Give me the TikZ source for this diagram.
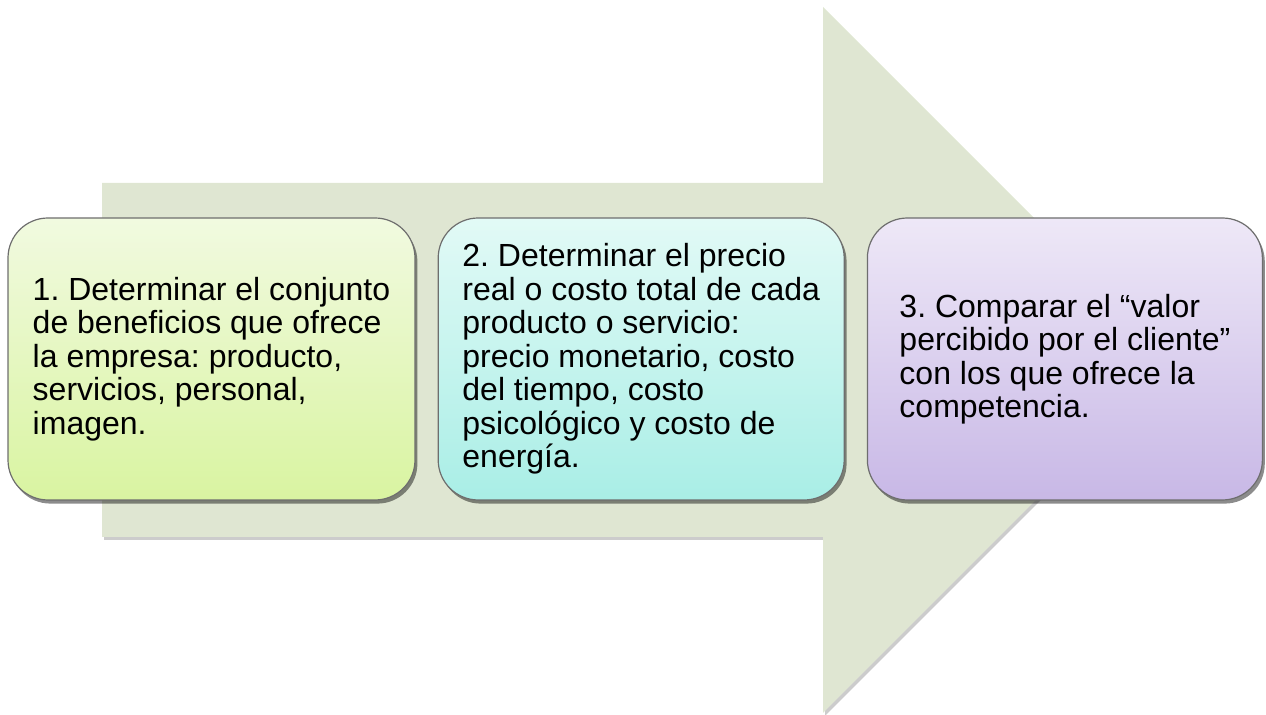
\documentclass[tikz,border=0pt]{standalone}
\usepackage{fontspec}
\setmainfont{Liberation Sans}
\usetikzlibrary{shadows,positioning}
\definecolor{arrowfill}{HTML}{DFE6D2}
\definecolor{boxline}{HTML}{6E6E6E}
\definecolor{greentop}{HTML}{F1FAE0}
\definecolor{greenbot}{HTML}{D9F4A1}
\definecolor{cyantop}{HTML}{E2FAF6}
\definecolor{cyanbot}{HTML}{A9EEE6}
\definecolor{violettop}{HTML}{EEE8F7}
\definecolor{violetbot}{HTML}{C8B8E6}
\tikzset{
  stepbox/.style={rounded corners=20pt, draw=boxline, line width=0.6pt,
    minimum height=141pt, align=left, inner sep=0pt,
    font=\fontsize{16}{16.75}\selectfont\frenchspacing,
    drop shadow={shadow xshift=1.2pt, shadow yshift=-1.8pt, fill=black, opacity=0.45}},
}
\begin{document}
\begin{tikzpicture}[x=0.5pt, y=-0.5pt]
\useasboundingbox (0,0) rectangle (1266,715);
% big arrow behind the steps
\coordinate (T1) at (102,183); \coordinate (T2) at (823,183);
\coordinate (H1) at (823,7); \coordinate (Tip) at (1176,360);
\coordinate (H2) at (823,713); \coordinate (B2) at (823,537);
\coordinate (B1) at (102,537);
\fill[arrowfill, drop shadow={shadow xshift=1pt, shadow yshift=-1.5pt, fill=black, opacity=0.2}]
  (T1) -- (T2) -- (H1) -- (Tip) -- (H2) -- (B2) -- (B1) -- cycle;
% steps
\coordinate (C1) at (211.5,359);
\node[stepbox, minimum width=203.5pt, top color=greentop, bottom color=greenbot] (box1) at (C1)
  {1. Determinar el conjunto\\de beneficios que ofrece\\la empresa: producto,\\servicios, personal,\\imagen.};
\node[stepbox, minimum width=203pt, top color=cyantop, bottom color=cyanbot, right=11pt of box1] (box2)
  {2. Determinar el precio\\real o costo total de cada\\producto o servicio:\\precio monetario, costo\\del tiempo, costo\\psicológico y costo de\\energía.};
\node[stepbox, minimum width=197.5pt, top color=violettop, bottom color=violetbot, right=11pt of box2] (box3)
  {3. Comparar el “valor\\percibido por el cliente”\\con los que ofrece la\\competencia.};
\end{tikzpicture}
\end{document}
